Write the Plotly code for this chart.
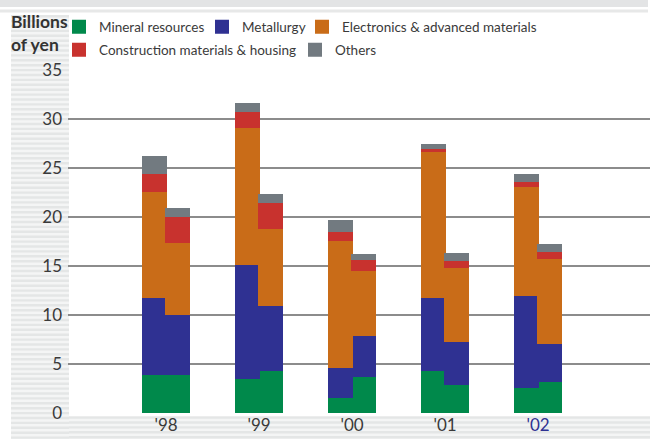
import plotly.graph_objects as go

# ---- data ----
categories = ["'98", "'99", "'00", "'01", "'02"]
series_names = ["Mineral resources", "Metallurgy", "Electronics & advanced materials",
                "Construction materials & housing", "Others"]
mineral_a = [4.0, 3.55, 1.6, 4.35, 2.7]
mineral_b = [4.0, 4.4, 3.75, 2.95, 3.25]
metallurgy_a = [7.85, 11.65, 3.05, 7.45, 9.3]
metallurgy_b = [6.1, 6.6, 4.2, 4.4, 3.85]
electronics_a = [10.8, 14.0, 13.05, 14.9, 11.2]
electronics_b = [7.35, 7.9, 6.6, 7.55, 8.7]
construction_a = [1.85, 1.6, 0.9, 0.3, 0.5]
construction_b = [2.65, 2.6, 1.15, 0.7, 0.7]
others_a = [1.65, 0.7, 0.95, 0.3, 0.55]
others_b = [0.7, 0.7, 0.4, 0.6, 0.6]
y_ticks = [0, 5, 10, 15, 20, 25, 30, 35]

colors = ["#00894b", "#2f3192", "#c96c18", "#c8322e", "#727a80"]
values_a = [mineral_a, metallurgy_a, electronics_a, construction_a, others_a]
values_b = [mineral_b, metallurgy_b, electronics_b, construction_b, others_b]

# ---- geometry ----
W, H = 655, 439
L, R, T, B = 68, 5, 70, 26
PW, PH = W - L - R, H - T - B
BAR_W = 0.245
XMIN, XMAX = -1.054, 5.204

def pxx(px):
    return (px - L) / PW

def pxy(py):
    return (H - B - py) / PH

x_pos = []
for i in range(len(categories)):
    x_pos.append(i - BAR_W / 2)
for i in range(len(categories)):
    x_pos.append(i + BAR_W / 2)

legend_ids = ["legend", "legend2", "legend3", "legend4", "legend5"]
# (text start x, row centre y) of each legend entry, in pixels
legend_pos = [(99, 27), (242, 27), (342, 27), (99, 50), (335, 50)]

fig = go.Figure()
for k, name in enumerate(series_names):
    fig.add_trace(go.Bar(
        x=x_pos, y=values_a[k] + values_b[k], width=BAR_W, name=name,
        marker=dict(color=colors[k], line=dict(width=2, color=colors[k])),
        legend=legend_ids[k],
        hovertemplate=name + ": %{y}<extra></extra>",
    ))

# ---- decorative striped background ----
def stripes(x0, x1, y0, y1, period=4.9, h=2.4):
    parts = []
    y = y0
    while y < y1:
        ya, yb = y, min(y + h, y1)
        parts.append("M%.5f,%.5f L%.5f,%.5f L%.5f,%.5f L%.5f,%.5f Z" % (
            pxx(x0), pxy(ya), pxx(x1), pxy(ya), pxx(x1), pxy(yb), pxx(x0), pxy(yb)))
        y += period
    return " ".join(parts)

shapes = []
def rect(x0, x1, y0, y1, color):
    shapes.append(dict(type="rect", xref="paper", yref="paper", layer="below",
                       x0=pxx(x0), x1=pxx(x1), y0=pxy(y1), y1=pxy(y0),
                       fillcolor=color, line=dict(width=0)))

rect(0, 648, 0, 7, "#e3e4e5")
rect(0, 648, 9.5, 12.5, "#e7e8e8")
rect(11, 69, 15, 439, "#f4f5f5")
rect(69, 650, 416, 439, "#f4f5f5")
shapes.append(dict(type="path", xref="paper", yref="paper", layer="below",
                   path=stripes(11, 69, 15, 439), fillcolor="#e4e6e6", line=dict(width=0)))
shapes.append(dict(type="path", xref="paper", yref="paper", layer="below",
                   path=stripes(69, 650, 416.4, 439), fillcolor="#e4e6e6", line=dict(width=0)))

tick_text = [c if c != "'02" else "<span style='color:#2e3192'>" + c + "</span>" for c in categories]

layout_legends = {}
for lid, (tx, ty) in zip(legend_ids, legend_pos):
    layout_legends[lid] = dict(orientation="h", x=pxx(tx - 40), y=pxy(ty),
                               xanchor="left", yanchor="middle",
                               font=dict(size=13.5, color="#3a3a3a"), bgcolor="rgba(0,0,0,0)",
                               itemclick=False, itemdoubleclick=False)

fig.update_layout(
    width=W, height=H,
    margin=dict(l=L, r=R, t=T, b=B, pad=0),
    paper_bgcolor="white", plot_bgcolor="white",
    barmode="stack", bargap=0,
    font=dict(family="Lato", color="#3a3a3a"),
    showlegend=True,
    xaxis=dict(range=[XMIN, XMAX], tickvals=list(range(len(categories))), ticktext=tick_text,
               showgrid=False, zeroline=False, showline=False, ticks="",
               tickfont=dict(size=17, color="#3a3a3a"), fixedrange=True),
    yaxis=dict(range=[0, 35], tickvals=y_ticks, showgrid=True, gridcolor="#8c8c8c", gridwidth=2,
               zeroline=False, showline=False, ticks="", ticklabelstandoff=5,
               tickfont=dict(size=17, color="#3a3a3a"), fixedrange=True),
    shapes=shapes,
    annotations=[dict(text="<b>Billions<br>of yen</b>", xref="paper", yref="paper",
                      x=pxx(9), y=pxy(33.5), xanchor="left", yanchor="middle", align="left",
                      showarrow=False, font=dict(size=17.5, color="#333333", family="Lato"))],
    **layout_legends,
)

fig.write_html("out.html")
